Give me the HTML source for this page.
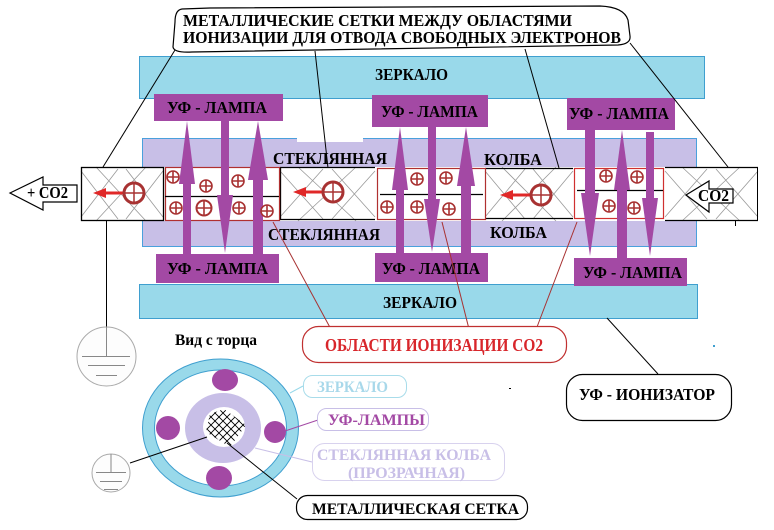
<!DOCTYPE html>
<html>
<head>
<meta charset="utf-8">
<style>
html,body{margin:0;padding:0;background:#fff;}
svg{display:block;}
text{font-family:"Liberation Serif","Noto Serif CJK SC",serif;font-weight:bold;}
</style>
</head>
<body>
<svg width="774" height="530" viewBox="0 0 774 530" xmlns="http://www.w3.org/2000/svg">
<rect width="774" height="530" fill="#fff"/>

<!-- top callout -->
<path d="M182,9 Q175,10 175,22 L173,47 Q174,53 192,52 L618,45 Q631,44 630,36 L628,20 Q624,7 600,6 L210,8 Z" fill="#fff" stroke="#000" stroke-width="1.2"/>
<text x="183" y="26" font-size="17" textLength="389" lengthAdjust="spacingAndGlyphs">МЕТАЛЛИЧЕСКИЕ СЕТКИ МЕЖДУ ОБЛАСТЯМИ</text>
<text x="183" y="43" font-size="17" textLength="438" lengthAdjust="spacingAndGlyphs">ИОНИЗАЦИИ ДЛЯ ОТВОДА СВОБОДНЫХ ЭЛЕКТРОНОВ</text>

<!-- top mirror -->
<rect x="139.5" y="56.5" width="565" height="42" fill="#99d9ea" stroke="#3f9fcf" stroke-width="1"/>
<text x="375" y="80" font-size="17" textLength="73" lengthAdjust="spacingAndGlyphs">ЗЕРКАЛО</text>

<!-- bottom mirror -->
<rect x="139.5" y="284.5" width="558" height="34" fill="#99d9ea" stroke="#3f9fcf" stroke-width="1"/>
<text x="383" y="308" font-size="17" textLength="74" lengthAdjust="spacingAndGlyphs">ЗЕРКАЛО</text>

<!-- glass bands -->
<rect x="142" y="138" width="555" height="29" fill="#c8bfe7"/>
<rect x="142" y="221" width="555" height="26" fill="#c8bfe7"/>
<line x1="142" y1="138.5" x2="697" y2="138.5" stroke="#4aa0dc" stroke-width="1"/>
<line x1="142" y1="246.5" x2="697" y2="246.5" stroke="#4aa0dc" stroke-width="1"/>
<line x1="142.5" y1="138" x2="142.5" y2="247" stroke="#4aa0dc" stroke-width="1"/>
<line x1="696.5" y1="138" x2="696.5" y2="247" stroke="#4aa0dc" stroke-width="1"/>
<rect x="297" y="137" width="66" height="5" fill="#fff"/>
<text x="273" y="164" font-size="17" textLength="114" lengthAdjust="spacingAndGlyphs">СТЕКЛЯННАЯ</text>
<text x="268" y="240" font-size="17" textLength="112" lengthAdjust="spacingAndGlyphs">СТЕКЛЯННАЯ</text>
<text x="484" y="165" font-size="17" textLength="58" lengthAdjust="spacingAndGlyphs">КОЛБА</text>
<text x="490" y="238" font-size="17" textLength="57" lengthAdjust="spacingAndGlyphs">КОЛБА</text>

<!-- central strip -->
<rect x="81" y="167" width="677" height="54" fill="#fff"/>
<g stroke="#999" stroke-width="0.8" fill="none">
  <path d="M81,171 L118,219 M81,217 L118,169 M126,169 L163,217 M126,219 L163,171 M96,167 L146,221 M146,167 L96,221"/>
  <path d="M280,171 L323,219 M280,217 L323,169 M332,169 L375,217 M332,219 L375,171 M298,167 L356,221 M356,167 L298,221"/>
  <path d="M485,171 L525,219 M485,217 L525,169 M533,169 L573,217 M533,219 L573,171 M502,167 L556,221 M556,167 L502,221"/>
  <path d="M665,171 L707,219 M665,217 L707,169 M716,169 L758,217 M716,219 L758,171 M682,167 L740,221 M740,167 L682,221"/>
</g>
<rect x="81.5" y="167.5" width="82" height="53" fill="none" stroke="#000" stroke-width="1.3"/>
<line x1="280" y1="167.5" x2="375" y2="167.5" stroke="#000" stroke-width="1.3"/>
<line x1="280" y1="219.5" x2="375" y2="219.5" stroke="#000" stroke-width="1.3"/>
<line x1="280.5" y1="167" x2="280.5" y2="220" stroke="#000" stroke-width="1.3"/>
<line x1="485" y1="168.5" x2="573" y2="168.5" stroke="#000" stroke-width="1.3"/>
<line x1="485" y1="218.5" x2="573" y2="218.5" stroke="#000" stroke-width="1.3"/>
<line x1="665" y1="167.5" x2="758" y2="167.5" stroke="#000" stroke-width="1.3"/>
<line x1="665" y1="220.5" x2="758" y2="220.5" stroke="#000" stroke-width="1.3"/>
<line x1="757.5" y1="167" x2="757.5" y2="221" stroke="#000" stroke-width="1"/>
<line x1="735.5" y1="220" x2="735.5" y2="226" stroke="#000" stroke-width="1"/>

<!-- ion cells -->
<rect x="165.5" y="167.5" width="114" height="53" fill="none" stroke="#b03030" stroke-width="1.2"/>
<line x1="165" y1="196.5" x2="279" y2="196.5" stroke="#000" stroke-width="1.2"/>
<rect x="377.5" y="168.5" width="108" height="51" fill="none" stroke="#b03030" stroke-width="1.2"/>
<line x1="380" y1="194.5" x2="483" y2="194.5" stroke="#000" stroke-width="1.2"/>
<rect x="574.5" y="168.5" width="89" height="50" fill="none" stroke="#d03030" stroke-width="1.2"/>
<line x1="577" y1="190.5" x2="663" y2="190.5" stroke="#000" stroke-width="1.2"/>

<!-- lamps -->
<g fill="#a349a4">
  <rect x="154" y="94" width="129" height="27"/>
  <rect x="372" y="95" width="116" height="32"/>
  <rect x="567" y="98" width="108" height="32"/>
  <rect x="156" y="254" width="123" height="29"/>
  <rect x="375" y="253" width="113" height="29"/>
  <rect x="574" y="258" width="113" height="28"/>
  <rect x="183" y="182" width="8" height="72"/>
  <polygon points="187,121 179,184 195,184"/>
  <rect x="221" y="121" width="8" height="75"/>
  <polygon points="217,195 233,195 225,253"/>
  <rect x="253" y="178" width="10" height="76"/>
  <polygon points="258,121 248,180 268,180"/>
  <rect x="396" y="188" width="8" height="65"/>
  <polygon points="400,127 392,190 408,190"/>
  <rect x="428" y="127" width="8" height="73"/>
  <polygon points="424,199 440,199 432,252"/>
  <rect x="461" y="184" width="10" height="69"/>
  <polygon points="466,127 457,186 475,186"/>
  <rect x="585" y="130" width="10" height="64"/>
  <polygon points="581,193 599,193 590,256"/>
  <rect x="617" y="188" width="10" height="70"/>
  <polygon points="622,130 614,190 630,190"/>
  <rect x="646" y="132" width="8" height="67"/>
  <polygon points="642,198 658,198 650,256"/>
</g>
<g fill="#000">
<text x="167" y="113" font-size="17" textLength="100" lengthAdjust="spacingAndGlyphs">УФ - ЛАМПА</text>
<text x="381" y="117" font-size="17" textLength="97" lengthAdjust="spacingAndGlyphs">УФ - ЛАМПА</text>
<text x="569" y="119" font-size="17" textLength="100" lengthAdjust="spacingAndGlyphs">УФ - ЛАМПА</text>
<text x="167" y="274" font-size="17" textLength="101" lengthAdjust="spacingAndGlyphs">УФ - ЛАМПА</text>
<text x="382" y="274" font-size="17" textLength="98" lengthAdjust="spacingAndGlyphs">УФ - ЛАМПА</text>
<text x="583" y="278" font-size="17" textLength="99" lengthAdjust="spacingAndGlyphs">УФ - ЛАМПА</text>
</g>

<!-- small ion symbols -->
<g fill="#fff" stroke="#a83232" stroke-width="1.6">
  <circle cx="173" cy="177" r="6"/><path d="M167,177 h12 M173,171 v12"/>
  <circle cx="206" cy="186" r="6"/><path d="M200,186 h12 M206,180 v12"/>
  <circle cx="238" cy="181" r="6"/><path d="M232,181 h12 M238,175 v12"/>
  <circle cx="176" cy="208" r="6"/><path d="M170,208 h12 M176,202 v12"/>
  <circle cx="204" cy="208" r="7.5" stroke-width="2"/><path d="M196.5,208 h15 M204,200.5 v15"/>
  <circle cx="239" cy="208" r="6"/><path d="M233,208 h12 M239,202 v12"/>
  <circle cx="267" cy="211" r="6"/><path d="M261,211 h12 M267,205 v12"/>

  <circle cx="417" cy="179" r="6"/><path d="M411,179 h12 M417,173 v12"/>
  <circle cx="446" cy="178" r="6"/><path d="M440,178 h12 M446,172 v12"/>
  <circle cx="387" cy="207" r="6"/><path d="M381,207 h12 M387,201 v12"/>
  <circle cx="417" cy="207" r="6"/><path d="M411,207 h12 M417,201 v12"/>
  <circle cx="449" cy="209" r="6"/><path d="M443,209 h12 M449,203 v12"/>

  <circle cx="606" cy="176" r="6"/><path d="M600,176 h12 M606,170 v12"/>
  <circle cx="637" cy="177" r="6"/><path d="M631,177 h12 M637,171 v12"/>
  <circle cx="609" cy="206" r="6"/><path d="M603,206 h12 M609,200 v12"/>
  <circle cx="634" cy="208" r="6"/><path d="M628,208 h12 M634,202 v12"/>
</g>

<!-- big ions in gas cells -->
<g>
  <line x1="100" y1="193" x2="124" y2="193" stroke="#e02828" stroke-width="3"/>
  <polygon points="93,193 106,188 106,198" fill="#e02828"/>
  <circle cx="134" cy="193" r="10" fill="#fff" stroke="#a83232" stroke-width="3"/>
  <path d="M124,193 h20 M134,183 v20" stroke="#a83232" stroke-width="1.5"/>

  <line x1="300" y1="192" x2="323" y2="192" stroke="#e02828" stroke-width="3"/>
  <polygon points="293,192 306,187 306,197" fill="#e02828"/>
  <circle cx="333" cy="192" r="10" fill="#fff" stroke="#a83232" stroke-width="3"/>
  <path d="M323,192 h20 M333,182 v20" stroke="#a83232" stroke-width="1.5"/>

  <line x1="507" y1="195" x2="531" y2="195" stroke="#e02828" stroke-width="3"/>
  <polygon points="500,195 513,190 513,200" fill="#e02828"/>
  <circle cx="541" cy="195" r="10" fill="#fff" stroke="#a83232" stroke-width="3"/>
  <path d="M531,195 h20 M541,185 v20" stroke="#a83232" stroke-width="1.5"/>
</g>

<!-- CO2 arrows -->
<polygon points="10,193 43,177 43,185 77,185 77,202 43,202 43,210" fill="#fff" stroke="#000" stroke-width="1.2"/>
<text x="27" y="198" font-size="17" textLength="41" lengthAdjust="spacingAndGlyphs">+ CO2</text>
<polygon points="686,195 709,181 709,189 733,189 733,203 709,203 709,212" fill="#fff" stroke="#000" stroke-width="1.2"/>
<text x="698" y="201" font-size="17" textLength="31" lengthAdjust="spacingAndGlyphs">CO2</text>

<!-- callout lines (black) -->
<g stroke="#000" stroke-width="1" fill="none">
  <line x1="175" y1="50" x2="103" y2="167"/>
  <line x1="315" y1="51" x2="328" y2="168"/>
  <line x1="525" y1="49" x2="559" y2="168"/>
  <line x1="630" y1="43" x2="728" y2="167"/>
  <line x1="106.5" y1="221" x2="106.5" y2="327"/>
  <line x1="607" y1="318" x2="658" y2="374"/>
</g>
<!-- red lines -->
<g stroke="#a83232" stroke-width="1" fill="none">
  <line x1="273" y1="222" x2="333" y2="333"/>
  <line x1="442" y1="222" x2="470" y2="333"/>
  <line x1="577" y1="222" x2="537" y2="327"/>
</g>

<!-- ground 1 -->
<circle cx="106.5" cy="356.5" r="29.5" fill="#fdfdfd" stroke="#aaa" stroke-width="1"/>
<g stroke="#888" stroke-width="1">
  <line x1="106.5" y1="327" x2="106.5" y2="356"/>
  <line x1="82" y1="356.5" x2="130" y2="356.5"/>
  <line x1="88" y1="365.5" x2="125" y2="365.5"/>
  <line x1="96" y1="375.5" x2="117" y2="375.5"/>
</g>

<!-- red callout -->
<rect x="302.5" y="326.5" width="264" height="36" rx="16" fill="#fff" stroke="#c03030" stroke-width="1.2"/>
<text x="325" y="351" font-size="18" fill="#d8262b" textLength="218" lengthAdjust="spacingAndGlyphs">ОБЛАСТИ ИОНИЗАЦИИ CO2</text>

<!-- UV ionizer callout -->
<rect x="566.5" y="374.5" width="165" height="46" rx="16" fill="#fff" stroke="#000" stroke-width="1.2"/>
<text x="579" y="400" font-size="17" textLength="136" lengthAdjust="spacingAndGlyphs">УФ - ИОНИЗАТОР</text>

<!-- end view -->
<text x="175" y="345" font-size="16" textLength="82" lengthAdjust="spacingAndGlyphs">Вид с торца</text>
<ellipse cx="220.5" cy="428" rx="78" ry="69" fill="#99d9ea" stroke="#3f9fcf" stroke-width="1"/>
<ellipse cx="220.5" cy="428" rx="66" ry="58" fill="#fff" stroke="#3f9fcf" stroke-width="1"/>
<ellipse cx="223" cy="428" rx="38" ry="35" fill="#c8bfe7"/>
<ellipse cx="224" cy="427" rx="21" ry="20" fill="#fff"/>
<g fill="#a349a4">
  <ellipse cx="225" cy="380" rx="13" ry="11"/>
  <ellipse cx="168" cy="428" rx="12" ry="12"/>
  <ellipse cx="275" cy="432" rx="11" ry="11"/>
  <ellipse cx="219" cy="478" rx="13" ry="12"/>
</g>
<defs><clipPath id="mesh"><polygon points="224,409 246,425 230,447 206,432 210,414"/></clipPath></defs>
<g clip-path="url(#mesh)" stroke="#000" stroke-width="0.9">
  <path d="M190,420 L230,460 M190,412 L238,460 M190,404 L246,460 M190,396 L254,460 M198,396 L262,460 M206,396 L262,452 M214,396 L262,444 M222,396 L262,436"/>
  <path d="M260,400 L210,450 M260,408 L218,450 M260,392 L202,450 M252,392 L194,450 M244,392 L190,446 M236,392 L190,438 M228,392 L190,430"/>
</g>

<!-- ground 2 -->
<circle cx="111" cy="473" r="19" fill="#fdfdfd" stroke="#aaa" stroke-width="1"/>
<g stroke="#888" stroke-width="1">
  <line x1="111" y1="454" x2="111" y2="472"/>
  <line x1="96" y1="472.5" x2="126" y2="472.5"/>
  <line x1="100" y1="481.5" x2="122" y2="481.5"/>
  <line x1="104" y1="489.5" x2="118" y2="489.5"/>
</g>
<line x1="130" y1="463" x2="207" y2="437" stroke="#000" stroke-width="1"/>
<line x1="227" y1="443" x2="297" y2="499" stroke="#000" stroke-width="1"/>

<!-- small callouts -->
<line x1="290" y1="393" x2="303" y2="386" stroke="#99d9ea" stroke-width="1"/>
<rect x="303.5" y="375.5" width="103" height="22" rx="9" fill="#fff" stroke="#a8dcea" stroke-width="1"/>
<text x="317" y="392" font-size="16" fill="#a8d8ea" textLength="71" lengthAdjust="spacingAndGlyphs">ЗЕРКАЛО</text>

<line x1="285" y1="431" x2="318" y2="420" stroke="#a349a4" stroke-width="1"/>
<rect x="317.5" y="408.5" width="111" height="22" rx="9" fill="#fff" stroke="#c8bfe7" stroke-width="1"/>
<text x="328" y="425" font-size="16" fill="#a349a4" textLength="97" lengthAdjust="spacingAndGlyphs">УФ-ЛАМПЫ</text>

<line x1="255" y1="448" x2="312" y2="462" stroke="#c8bfe7" stroke-width="1"/>
<rect x="312.5" y="443.5" width="192" height="37" rx="12" fill="#fff" stroke="#d8d2ee" stroke-width="1"/>
<text x="317" y="460" font-size="16" fill="#c8bfe7" textLength="174" lengthAdjust="spacingAndGlyphs">СТЕКЛЯННАЯ КОЛБА</text>
<text x="348" y="478" font-size="16" fill="#c8bfe7" textLength="117" lengthAdjust="spacingAndGlyphs">(ПРОЗРАЧНАЯ)</text>

<rect x="296.5" y="495.5" width="231" height="24" rx="11" fill="#fff" stroke="#000" stroke-width="1.2"/>
<text x="312" y="514" font-size="16" textLength="207" lengthAdjust="spacingAndGlyphs">МЕТАЛЛИЧЕСКАЯ СЕТКА</text>

<!-- stray marks -->
<rect x="713" y="345" width="2" height="2" fill="#3f9fcf"/>
<rect x="509" y="388" width="2" height="1" fill="#000"/>
</svg>
</body>
</html>
